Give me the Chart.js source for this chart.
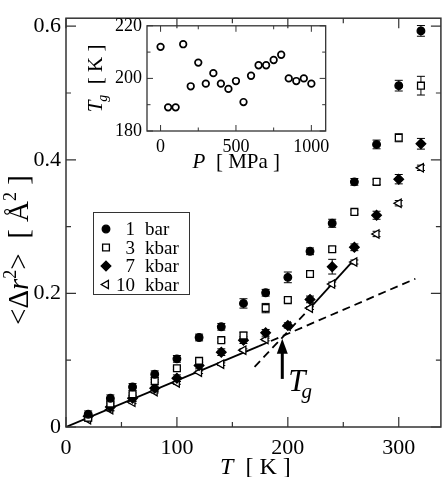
<!DOCTYPE html>
<html>
<head>
<meta charset="utf-8">
<script src="https://cdn.jsdelivr.net/npm/chart.js@4.4.1/dist/chart.umd.min.js"></script>
<style>
  html, body { margin: 0; padding: 0; background: #fff; }
  #wrap { position: relative; width: 447px; height: 477px; }
  #main { position: absolute; left: 0; top: 0; }
  #inset { position: absolute; left: 75px; top: 10px; }
</style>
</head>
<body>
<div id="wrap">
  <canvas id="main" width="447" height="477"></canvas>
  <canvas id="inset" width="260" height="170"></canvas>
</div>
<script>
const SERIF = '"Liberation Serif", "DejaVu Serif", serif';

// main panel: mean square displacement vs temperature
const TEMPS = [20, 40, 60, 80, 100, 120, 140, 160, 180, 200, 220, 240, 260, 280, 300, 320];
const BAR_1 = [0.019, 0.043, 0.060, 0.079, 0.102, 0.134, 0.150, 0.185, 0.201, 0.224, 0.263, 0.305, 0.367, 0.423, 0.511, 0.593];
const BAR_1_ERR = [0.005, 0.005, 0.005, 0.005, 0.005, 0.005, 0.005, 0.007, 0.005, 0.008, 0.005, 0.006, 0.005, 0.0065, 0.008, 0.008];
const KBAR_3 = [0.014, 0.035, 0.049, 0.069, 0.088, 0.099, 0.130, 0.137, 0.178, 0.190, 0.229, 0.266, 0.322, 0.367, 0.433, 0.511];
const KBAR_3_ERR = [0.002, 0.002, 0.002, 0.002, 0.002, 0.002, 0.003, 0.005, 0.007, 0.003, 0.003, 0.004, 0.003, 0.004, 0.006, 0.014];
const KBAR_7 = [0.016, 0.030, 0.043, 0.058, 0.073, 0.092, 0.112, 0.130, 0.141, 0.152, 0.191, 0.240, 0.269, 0.317, 0.371, 0.424];
const KBAR_7_ERR = [0.005, 0.005, 0.005, 0.005, 0.005, 0.005, 0.005, 0.005, 0.005, 0.004, 0.005, 0.011, 0.005, 0.006, 0.007, 0.008];
const KBAR_10 = [0.011, 0.026, 0.037, 0.053, 0.066, 0.082, 0.094, 0.115, 0.131, 0.151, 0.178, 0.214, 0.247, 0.289, 0.335, 0.388];
const KBAR_10_ERR = [0.002, 0.002, 0.002, 0.002, 0.002, 0.002, 0.002, 0.002, 0.002, 0.002, 0.002, 0.003, 0.003, 0.004, 0.004, 0.004];

// fitted lines: [T, value] end points
const LOW_FIT_SOLID = [[0, 0], [174, 0.121]];
const LOW_FIT_DASH = [[174, 0.121], [315, 0.222]];
const HIGH_FIT_DASH = [[170, 0.090], [220, 0.178]];
const HIGH_FIT_SOLID = [[220, 0.178], [259, 0.249]];

// arrow marking Tg: [T, tail value, tip value]
const TG_ARROW = [195, 0.072, 0.132];

const LEGEND_NUMS = ['1', '3', '7', '10'];
const LEGEND_UNITS = ['bar', 'kbar', 'kbar', 'kbar'];

// inset: Tg vs pressure
const PRESSURE = [0, 50, 100, 150, 200, 250, 300, 350, 400, 450, 500, 550, 600, 650, 700, 750, 800, 850, 900, 950, 1000];
const TG = [212, 189, 189, 213, 197, 206, 198, 202, 198, 196, 199, 191, 201, 205, 205, 207, 209, 200, 199, 200, 198];

const SERIES = [
  { values: BAR_1, errors: BAR_1_ERR, style: 'circle', radius: 3.8, fill: '#000' },
  { values: KBAR_3, errors: KBAR_3_ERR, style: 'rect', radius: 4.8, fill: '#fff' },
  { values: KBAR_7, errors: KBAR_7_ERR, style: 'rectRot', radius: 4.8, fill: '#000' },
  { values: KBAR_10, errors: KBAR_10_ERR, style: 'triangle', radius: 4.8, fill: '#fff', rotation: -90 },
];

function pts(xs, ys) {
  return xs.map((x, i) => ({ x, y: ys[i] }));
}

function linePts(pairs) {
  return pairs.map(([x, y]) => ({ x, y }));
}

// parts: [text, font, dy, dx]
function drawParts(ctx, parts, x, y, align) {
  let w = 0;
  parts.forEach(p => { ctx.font = p[1]; w += ctx.measureText(p[0]).width + (p[3] || 0); });
  let cx = align === 'center' ? x - w / 2 : align === 'right' ? x - w : x;
  parts.forEach(p => {
    ctx.font = p[1];
    cx += p[3] || 0;
    ctx.fillText(p[0], cx, y + (p[2] || 0));
    cx += ctx.measureText(p[0]).width;
  });
}

function drawMarker(ctx, s, x, y) {
  const r = s.radius;
  ctx.beginPath();
  if (s.style === 'circle') {
    ctx.arc(x, y, r, 0, Math.PI * 2);
  } else if (s.style === 'rect') {
    const h = r * Math.SQRT1_2;
    ctx.rect(x - h, y - h, 2 * h, 2 * h);
  } else if (s.style === 'rectRot') {
    ctx.moveTo(x, y - r); ctx.lineTo(x + r, y); ctx.lineTo(x, y + r); ctx.lineTo(x - r, y);
    ctx.closePath();
  } else {
    ctx.moveTo(x - r, y); ctx.lineTo(x + r * 0.5, y - r * 0.87); ctx.lineTo(x + r * 0.5, y + r * 0.87);
    ctx.closePath();
  }
  ctx.fillStyle = s.fill;
  ctx.fill();
  ctx.stroke();
}

// frame + inward ticks on all four sides
const frameTicks = {
  id: 'frameTicks',
  afterDraw(chart, args, opts) {
    const { ctx, chartArea: a, scales } = chart;
    ctx.save();
    ctx.strokeStyle = '#333';
    ctx.lineWidth = opts.width;
    ctx.strokeRect(a.left, a.top, a.right - a.left, a.bottom - a.top);
    ctx.lineWidth = opts.tickWidth;
    ctx.beginPath();
    for (const t of scales.x.ticks) {
      const px = scales.x.getPixelForValue(t.value);
      const len = t.label !== '' ? opts.major : opts.minor;
      ctx.moveTo(px, a.bottom); ctx.lineTo(px, a.bottom - len);
      ctx.moveTo(px, a.top); ctx.lineTo(px, a.top + len);
    }
    for (const t of scales.y.ticks) {
      const py = scales.y.getPixelForValue(t.value);
      const len = t.label !== '' ? opts.major : opts.minor;
      ctx.moveTo(a.left, py); ctx.lineTo(a.left + len, py);
      ctx.moveTo(a.right, py); ctx.lineTo(a.right - len, py);
    }
    ctx.stroke();
    ctx.restore();
  }
};

const errorBars = {
  id: 'errorBars',
  beforeDatasetsDraw(chart) {
    const { ctx, scales: { x, y } } = chart;
    ctx.save();
    ctx.strokeStyle = '#000';
    ctx.lineWidth = 1;
    chart.data.datasets.forEach(ds => {
      if (!ds.errors) return;
      ds.data.forEach((p, i) => {
        const px = x.getPixelForValue(p.x);
        const top = y.getPixelForValue(p.y + ds.errors[i]);
        const bot = y.getPixelForValue(p.y - ds.errors[i]);
        ctx.beginPath();
        ctx.moveTo(px, top); ctx.lineTo(px, bot);
        ctx.moveTo(px - 4, top); ctx.lineTo(px + 4, top);
        ctx.moveTo(px - 4, bot); ctx.lineTo(px + 4, bot);
        ctx.stroke();
      });
    });
    ctx.restore();
  }
};

const mainText = {
  id: 'mainText',
  afterDraw(chart) {
    const { ctx, chartArea: a, scales: { x, y } } = chart;
    ctx.save();
    ctx.fillStyle = '#000';
    ctx.strokeStyle = '#000';
    ctx.textBaseline = 'alphabetic';

    drawParts(ctx, [['T', 'italic 24px ' + SERIF], ['  [ K ]', '24px ' + SERIF]], (a.left + a.right) / 2 + 2, 474, 'center');

    ctx.save();
    ctx.translate(28, 250);
    ctx.rotate(-Math.PI / 2);
    drawParts(ctx, [
      ['<\u0394', '29px ' + SERIF], ['r', 'italic 29px ' + SERIF], ['2', '18px ' + SERIF, -12],
      ['>  [ \u00C5', '29px ' + SERIF], ['2', '18px ' + SERIF, -12], [' ]', '29px ' + SERIF]
    ], 0, 0, 'center');
    ctx.restore();

    // legend
    ctx.lineWidth = 1;
    ctx.strokeStyle = '#333';
    ctx.strokeRect(93.5, 212.5, 96, 82);
    ctx.strokeStyle = '#000';
    ctx.lineWidth = 1.3;
    SERIES.forEach((s, i) => {
      const ly = 229 + i * 18.5;
      drawMarker(ctx, s, 106, ly);
      ctx.fillStyle = '#000';
      ctx.font = '19px ' + SERIF;
      ctx.textAlign = 'right';
      ctx.fillText(LEGEND_NUMS[i], 135, ly + 6);
      ctx.textAlign = 'left';
      ctx.fillText(LEGEND_UNITS[i], 145, ly + 6);
    });

    // Tg arrow
    const ax = x.getPixelForValue(TG_ARROW[0]);
    const ay1 = y.getPixelForValue(TG_ARROW[1]);
    const ay2 = y.getPixelForValue(TG_ARROW[2]);
    ctx.lineWidth = 3;
    ctx.beginPath();
    ctx.moveTo(ax, ay1); ctx.lineTo(ax, ay2 + 10);
    ctx.stroke();
    ctx.beginPath();
    ctx.moveTo(ax, ay2); ctx.lineTo(ax - 5.5, ay2 + 15); ctx.lineTo(ax + 5.5, ay2 + 15);
    ctx.closePath();
    ctx.fill();

    drawParts(ctx, [['T', 'italic 31px ' + SERIF], ['g', 'italic 21px ' + SERIF, 7, -4]], ax + 6, 391, 'left');
    ctx.restore();
  }
};

const insetText = {
  id: 'insetText',
  afterDraw(chart) {
    const { ctx, chartArea: a } = chart;
    ctx.save();
    ctx.fillStyle = '#000';
    drawParts(ctx, [['P', 'italic 21px ' + SERIF], ['  [ MPa ]', '21px ' + SERIF]], (a.left + a.right) / 2, a.bottom + 37, 'center');
    ctx.translate(a.left - 45, (a.top + a.bottom) / 2);
    ctx.rotate(-Math.PI / 2);
    drawParts(ctx, [['T', 'italic 21px ' + SERIF], ['g', 'italic 14px ' + SERIF, 5, -1], ['  [ K ]', '21px ' + SERIF]], 0, 0, 'center');
    ctx.restore();
  }
};

function tickFont(size) {
  return { family: SERIF, size };
}

const datasets = SERIES.map(s => ({
  data: pts(TEMPS, s.values),
  errors: s.errors,
  pointStyle: s.style,
  pointRadius: s.radius,
  pointRotation: s.rotation || 0,
  pointBorderWidth: 1.3,
  pointBorderColor: '#000',
  pointBackgroundColor: s.fill,
  showLine: false,
}));

[[LOW_FIT_SOLID, []], [LOW_FIT_DASH, [8, 5]], [HIGH_FIT_DASH, [8, 5]], [HIGH_FIT_SOLID, []]].forEach(([pairs, dash]) => {
  datasets.push({
    data: linePts(pairs),
    showLine: true,
    borderColor: '#000',
    borderWidth: 1.8,
    borderDash: dash,
    pointRadius: 0,
  });
});

new Chart(document.getElementById('main'), {
  type: 'scatter',
  data: { datasets },
  options: {
    responsive: false,
    animation: false,
    devicePixelRatio: 1,
    layout: { padding: { top: 2, right: 4, left: 0, bottom: 0 } },
    plugins: {
      legend: { display: false },
      tooltip: { enabled: false },
      frameTicks: { width: 1.5, tickWidth: 1.2, major: 10, minor: 5 },
    },
    scales: {
      x: {
        type: 'linear', min: 0, max: 338,
        afterFit: s => { s.height = 50; },
        grid: { display: false, drawTicks: false },
        border: { display: false },
        ticks: {
          stepSize: 50, includeBounds: false, autoSkip: false, maxRotation: 0, padding: 8,
          color: '#000', font: tickFont(22),
          callback: v => (v % 100 === 0 ? String(v) : ''),
        },
      },
      y: {
        type: 'linear', min: 0, max: 0.612,
        afterFit: s => { s.width = 66; },
        grid: { display: false, drawTicks: false },
        border: { display: false },
        ticks: {
          stepSize: 0.1, includeBounds: false, autoSkip: false, padding: 5,
          color: '#000', font: tickFont(22),
          callback: v => {
            const r = Math.round(v * 10);
            if (r % 2 !== 0) return '';
            return r === 0 ? '0' : (r / 10).toFixed(1);
          },
        },
      },
    },
  },
  plugins: [errorBars, frameTicks, mainText],
});

new Chart(document.getElementById('inset'), {
  type: 'scatter',
  data: {
    datasets: [{
      data: pts(PRESSURE, TG),
      pointStyle: 'circle',
      pointRadius: 3.3,
      pointBorderWidth: 1.7,
      pointBorderColor: '#000',
      pointBackgroundColor: 'rgba(0,0,0,0)',
    }],
  },
  options: {
    responsive: false,
    animation: false,
    devicePixelRatio: 1,
    layout: { padding: { top: 13, right: 8, left: 0, bottom: 0 } },
    plugins: {
      legend: { display: false },
      tooltip: { enabled: false },
      frameTicks: { width: 1.3, tickWidth: 1, major: 6, minor: 3.5 },
    },
    scales: {
      x: {
        type: 'linear', min: -90, max: 1095,
        afterFit: s => { s.height = 49; },
        grid: { display: false, drawTicks: false },
        border: { display: false },
        ticks: {
          stepSize: 250, includeBounds: false, autoSkip: false, maxRotation: 0, padding: 5,
          color: '#000', font: tickFont(18),
          callback: v => (v % 500 === 0 ? String(v) : ''),
        },
      },
      y: {
        type: 'linear', min: 180, max: 220,
        afterFit: s => { s.width = 72; },
        grid: { display: false, drawTicks: false },
        border: { display: false },
        ticks: {
          stepSize: 10, includeBounds: false, autoSkip: false, padding: 5,
          color: '#000', font: tickFont(18),
          callback: v => (v % 20 === 0 ? String(v) : ''),
        },
      },
    },
  },
  plugins: [frameTicks, insetText],
});
</script>
</body>
</html>
